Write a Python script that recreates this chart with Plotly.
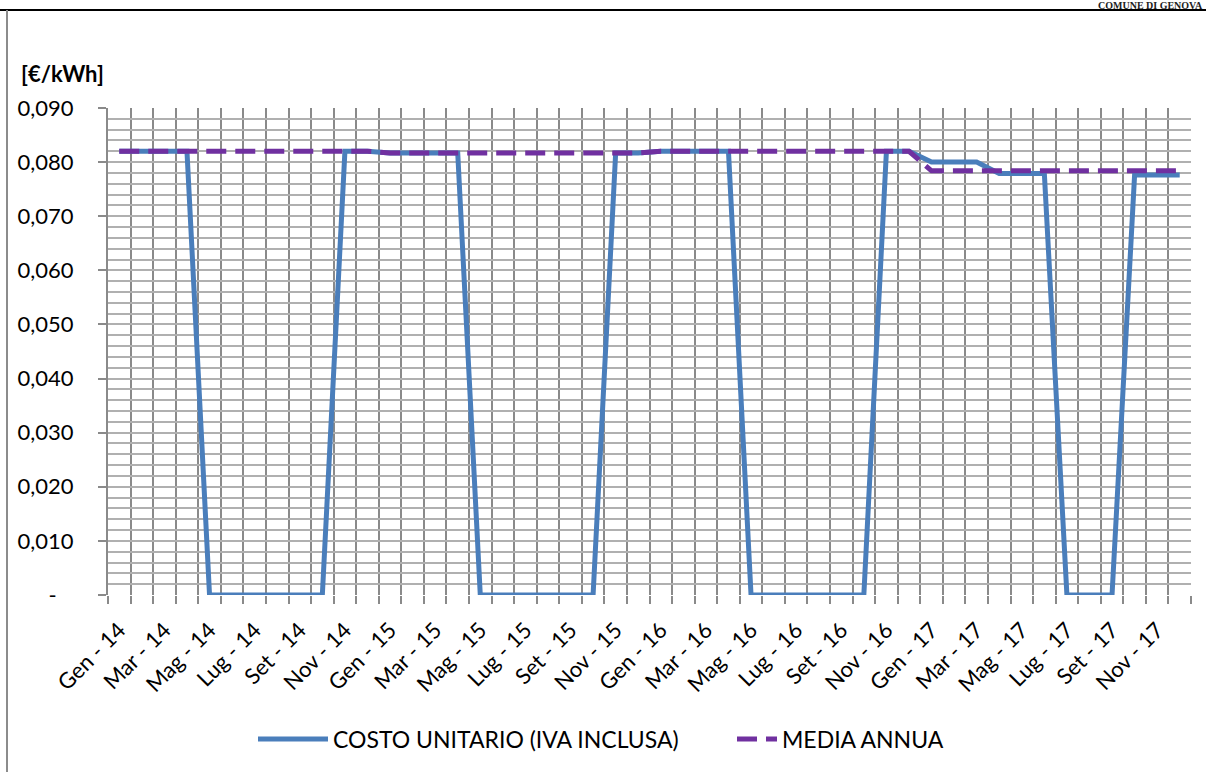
"""Costo unitario energia elettrica 2014-2017 (replica grafico Excel)."""

import plotly.graph_objects as go

MONTHS = ["Gen", "Feb", "Mar", "Apr", "Mag", "Giu",
          "Lug", "Ago", "Set", "Ott", "Nov", "Dic"]
YEARS = ["14", "15", "16", "17"]
month_labels = [f"{m} - {y}" for y in YEARS for m in MONTHS]

costo_unitario = [
    # 2014
    0.0820, 0.0820, 0.0820, 0.0820, 0, 0, 0, 0, 0, 0, 0.0820, 0.0820,
    # 2015
    0.0817, 0.0817, 0.0817, 0.0817, 0, 0, 0, 0, 0, 0, 0.0817, 0.0817,
    # 2016
    0.0820, 0.0820, 0.0820, 0.0820, 0, 0, 0, 0, 0, 0, 0.0820, 0.0820,
    # 2017
    0.0800, 0.0800, 0.0800, 0.0779, 0.0779, 0.0779, 0, 0, 0, 0.0776, 0.0776, 0.0776,
]
media_annua = [0.0820] * 12 + [0.0817] * 12 + [0.0820] * 12 + [0.0784] * 12

y_tickvals = [0, 0.01, 0.02, 0.03, 0.04, 0.05, 0.06, 0.07, 0.08, 0.09]
y_ticktext = ["-\u00a0\u00a0\u00a0", "0,010", "0,020", "0,030", "0,040",
              "0,050", "0,060", "0,070", "0,080", "0,090"]

FONT = "Lato"
x = list(range(len(month_labels)))

fig = go.Figure()
fig.add_trace(
    go.Scatter(
        x=x, y=costo_unitario, mode="lines",
        name="COSTO UNITARIO (IVA INCLUSA)",
        line=dict(color="#4a7ebb", width=5),
        legend="legend",
    )
)
fig.add_trace(
    go.Scatter(
        x=x, y=media_annua, mode="lines",
        name="MEDIA ANNUA",
        line=dict(color="#7030a0", width=5, dash="20px,9px"),
        legend="legend2",
    )
)

# plot area in pixels: x 108..1191, y 108..595
L, R, T, B = 108, 1191, 108, 595


def px_x(p):
    return (p - L) / (R - L)


def px_y(p):
    return (B - p) / (B - T)


# page frame (top rule + left rule)
fig.add_shape(type="line", xref="paper", yref="paper",
              x0=px_x(0), x1=px_x(1206), y0=px_y(10), y1=px_y(10),
              line=dict(color="black", width=2))
fig.add_shape(type="line", xref="paper", yref="paper",
              x0=px_x(7), x1=px_x(7), y0=px_y(10), y1=px_y(772),
              line=dict(color="#8c8c8c", width=2))
fig.add_annotation(xref="paper", yref="paper", x=px_x(1204), y=px_y(-1),
                   xanchor="right", yanchor="top", showarrow=False,
                   borderpad=0,
                   text="<b>COMUNE DI GENOVA</b>",
                   font=dict(family="Liberation Serif", size=10, color="#222"))
fig.add_annotation(xref="paper", yref="paper", x=px_x(19), y=px_y(74),
                   xanchor="left", yanchor="middle", showarrow=False,
                   text="<b>[€/kWh]</b>",
                   font=dict(family=FONT, size=22, color="black"))

fig.update_xaxes(
    range=[-0.5, len(month_labels) - 0.5],
    tickmode="array",
    tickvals=x[::2],
    ticktext=month_labels[::2],
    tickangle=-45,
    ticks="",
    ticklabelstandoff=17,
    showgrid=False,
    zeroline=False,
    automargin=False,
    tickfont=dict(family=FONT, size=22, color="black"),
    minor=dict(tick0=-0.5, dtick=1, showgrid=True, gridcolor="#8a8a8a",
               gridwidth=2, ticks="outside", ticklen=8, tickcolor="#8a8a8a",
               tickwidth=2),
)
fig.update_yaxes(
    range=[0, 0.09],
    tickmode="array",
    tickvals=y_tickvals,
    ticktext=y_ticktext,
    ticks="outside",
    ticklen=8,
    tickwidth=2,
    tickcolor="#8a8a8a",
    ticklabelstandoff=20,
    showgrid=True,
    gridcolor="#b0b0b0",
    gridwidth=2,
    zeroline=False,
    showline=True,
    linecolor="#8a8a8a",
    linewidth=2,
    automargin=False,
    tickfont=dict(family=FONT, size=22, color="black"),
    minor=dict(dtick=0.002, showgrid=True, gridcolor="#b0b0b0", gridwidth=2),
)

legend_font = dict(family=FONT, size=23, color="black")
fig.update_layout(
    width=1206,
    height=772,
    margin=dict(l=L, r=1206 - R, t=T, b=772 - B),
    paper_bgcolor="white",
    plot_bgcolor="white",
    font=dict(family=FONT, color="black"),
    showlegend=True,
    legend=dict(
        orientation="h",
        x=px_x(253), xanchor="left",
        y=px_y(739), yanchor="middle",
        font=legend_font,
        itemwidth=70,
    ),
    legend2=dict(
        orientation="h",
        x=px_x(732), xanchor="left",
        y=px_y(739), yanchor="middle",
        font=legend_font,
        itemwidth=40,
    ),
)

fig.write_html(
    "out.html",
    config={"displayModeBar": False},
    post_script="document.body.style.margin='0';",
)
